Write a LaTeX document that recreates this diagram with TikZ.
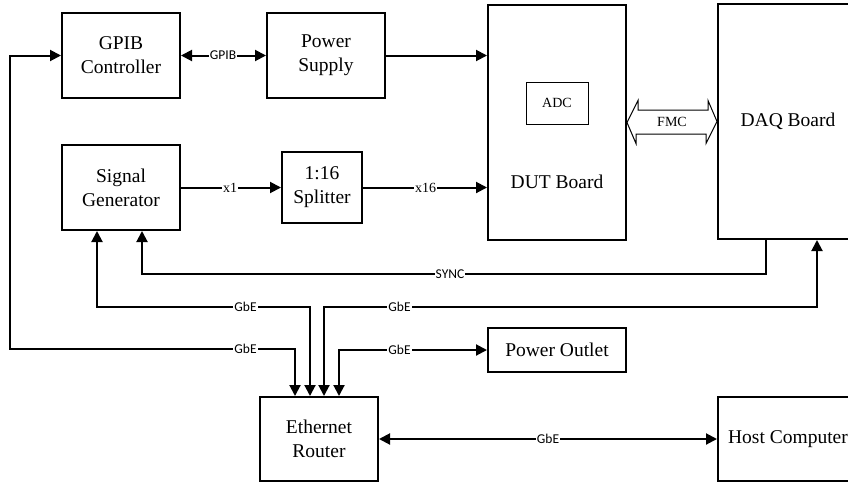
\documentclass[tikz,border=0pt]{standalone}
\usepackage{fontspec}
\setmainfont{Liberation Serif}
\newfontfamily\lblfont{Carlito}
\usetikzlibrary{arrows.meta,calc}
\tikzset{
  box/.style={draw, line width=2pt, rectangle, align=center, inner sep=0pt,
    font=\fontsize{19.5}{24}\selectfont},
  conn/.style={line width=2pt, >={Triangle[length=11pt,width=11pt]}},
  lbl/.style={fill=white, inner sep=1pt, font=\lblfont\fontsize{13.5}{14}\selectfont},
  slbl/.style={fill=white, inner sep=1pt, font=\fontsize{14}{15}\selectfont},
}
\begin{document}
\begin{tikzpicture}[x=1pt,y=-1pt]
\useasboundingbox (0,0) rectangle (848,483);
\clip (0,0) rectangle (848,483);
% boxes
\node[box, minimum width=118pt, minimum height=85pt] (gpib) at (121,55.5) {GPIB\\Controller};
\node[box, minimum width=118pt, minimum height=85pt] (ps) at (326,55.5) {Power\\Supply};
\node[box, minimum width=118pt, minimum height=85pt] (sig) at (121,187.5) {Signal\\Generator};
\node[box, minimum width=80pt, minimum height=71pt] (split) at (322,187.5) {1:16\\Splitter};
\node[box, minimum width=138pt, minimum height=235pt] (dut) at (557,122.5) {};
\node[draw, line width=1pt, minimum width=62pt, minimum height=42pt, font=\fontsize{14}{15}\selectfont] (adc) at (557,103) {ADC};
\node[font=\fontsize{19.5}{24}\selectfont] (duttxt) at (557,182) {DUT Board};
\node[box, minimum width=140pt, minimum height=235pt] (daq) at (788,121.5) {DAQ Board};
\node[box, minimum width=138pt, minimum height=44pt] (outlet) at (557,350) {Power Outlet};
\node[box, minimum width=118pt, minimum height=84pt] (router) at (319,439) {Ethernet\\Router};
\node[box, minimum width=140pt, minimum height=84pt] (host) at (788,439) {Host Computer};

% FMC
\draw[line width=1pt] (dut.east) -- ++(11,-22) -- ++(0,9.5) -- ++(70,0) -- ++(0,-9.5) -- (daq.west)
  -- ++(-11,22) -- ++(0,-9.5) -- ++(-70,0) -- ++(0,9.5) -- cycle;
\node[font=\fontsize{14}{15}\selectfont] (fmc) at ($(dut.east)!0.5!(daq.west)$) {FMC};

% coordinates
\coordinate (r1) at ($(router.north west)+(36,0)$);
\coordinate (r2) at ($(router.north west)+(51,0)$);
\coordinate (r3) at ($(router.north west)+(65,0)$);
\coordinate (r4) at ($(router.north west)+(80,0)$);
\coordinate (sg1) at ($(sig.south west)+(81,0)$);
\coordinate (sg2) at ($(sig.south west)+(36,0)$);
\coordinate (dq1) at ($(daq.south west)+(49,0)$);
\coordinate (dq2) at ($(daq.south west)+(100,0)$);
\coordinate (yA) at (0,274);
\coordinate (yB) at (0,306.5);
\coordinate (lft) at (10,349);

% connectors
\draw[conn,<->] (gpib.east) -- (ps.west);
\node[lbl] (lgpib) at (223,55.5) {GPIB};
\draw[conn,->] (ps.east) -- (ps.east -| dut.west);
\draw[conn,->] (sig.east) -- (split.west);
\node[slbl] (lx1) at (230,187.5) {x1};
\draw[conn,->] (split.east) -- (split.east -| dut.west);
\node[slbl] (lx16) at (425.5,187.5) {x16};

\draw[conn,->] (dq1) -- (dq1 |- yA) -| (sg1);
\node[lbl] (lsync) at (450,274) {SYNC};
\draw[conn,<->] (r2) -- (r2 |- yB) -| (sg2);
\node[lbl] (lg1) at (245.5,306.5) {GbE};
\draw[conn,<->] (r3) -- (r3 |- yB) -| (dq2);
\node[lbl] (lg2) at (399.5,306.5) {GbE};
\draw[conn,<->] (r1) |- (lft) |- (gpib.west);
\node[lbl] (lg3) at (245.5,349) {GbE};
\draw[conn,<->] (r4) |- (outlet.west);
\node[lbl] (lg4) at (399.5,350) {GbE};
\draw[conn,<->] (router.east) -- (host.west);
\node[lbl] (lg5) at (548,439) {GbE};
\end{tikzpicture}
\end{document}
